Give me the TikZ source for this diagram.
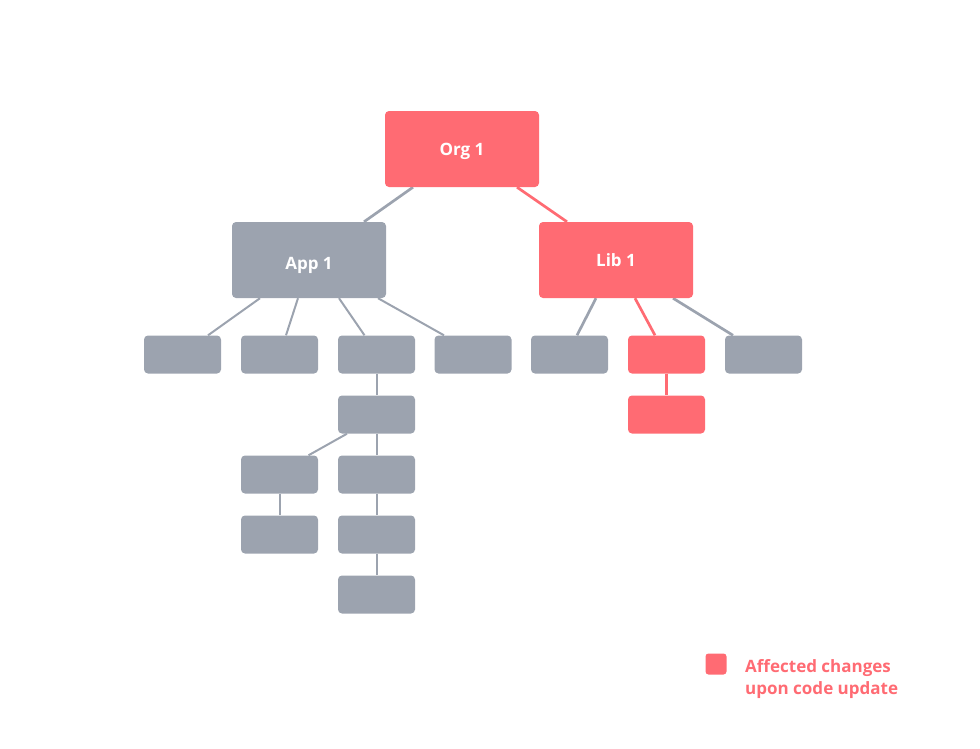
\documentclass[tikz,border=0pt]{standalone}
\usepackage{fontspec}
\setmainfont{Open Sans}
\definecolor{redc}{HTML}{FF6B73}
\definecolor{grayc}{HTML}{9CA3AF}
\pgfdeclarelayer{bg}
\pgfsetlayers{bg,main}
\tikzset{
  bigbox/.style={fill=#1, rounded corners=4pt, minimum width=154pt, minimum height=76pt, inner sep=0pt, text=white, font=\fontsize{17}{20}\selectfont\bfseries, text height=12pt, text depth=0pt},
  smallbox/.style={fill=#1, rounded corners=4pt, minimum width=77pt, minimum height=38pt, inner sep=0pt},
  gline/.style={draw=grayc, line width=2pt},
  gthick/.style={draw=grayc, line width=2.7pt},
  rline/.style={draw=redc, line width=2.7pt},
}
\begin{document}
\begin{tikzpicture}[x=1pt,y=-1pt]
\useasboundingbox (0,0) rectangle (980,748);
% top levels
\node[bigbox=redc]  (org) at (462,149) {Org 1};
\node[bigbox=grayc, text height=18pt] (app) at (309,260) {App 1};
\node[bigbox=redc]  (lib) at (616,260) {Lib 1};
% second row
\node[smallbox=grayc] (a1) at (182.5,354.5) {};
\node[smallbox=grayc] (a2) at (279.5,354.5) {};
\node[smallbox=grayc] (a3) at (376.5,354.5) {};
\node[smallbox=grayc] (a4) at (473,354.5) {};
\node[smallbox=grayc] (l1) at (569.5,354.5) {};
\node[smallbox=redc]  (l2) at (666.5,354.5) {};
\node[smallbox=grayc] (l3) at (763.5,354.5) {};
\node[smallbox=redc]  (l2b) at (666.5,414.5) {};
% column under a3
\node[smallbox=grayc] (c1) at (376.5,414.5) {};
\node[smallbox=grayc] (d1) at (279.5,474.5) {};
\node[smallbox=grayc] (d2) at (279.5,534.5) {};
\node[smallbox=grayc] (e1) at (376.5,474.5) {};
\node[smallbox=grayc] (e2) at (376.5,534.5) {};
\node[smallbox=grayc] (e3) at (376.5,594.5) {};
% legend
\node[fill=redc, rounded corners=3pt, minimum size=21pt, inner sep=0pt] (leg) at (716,664) {};
\node[anchor=north west, inner sep=0pt, align=left, text=redc, font=\fontsize{17}{22}\selectfont\bfseries] (legtext) at (745,659) {Affected changes\\upon code update};
\begin{pgfonlayer}{bg}
\draw[gthick] ([xshift=-49pt]org.south) -- ([xshift=55pt]app.north);
\draw[rline] ([xshift=55pt]org.south) -- ([xshift=-49pt]lib.north);
\draw[gline] ([xshift=-49pt]app.south) -- ([xshift=25.5pt]a1.north);
\draw[gline] ([xshift=-11pt]app.south) -- ([xshift=6.5pt]a2.north);
\draw[gline] ([xshift=30pt]app.south) -- ([xshift=-12pt]a3.north);
\draw[gline] ([xshift=69pt]app.south) -- ([xshift=-29pt]a4.north);
\draw[gthick] ([xshift=-20pt]lib.south) -- ([xshift=7.5pt]l1.north);
\draw[rline] ([xshift=19pt]lib.south) -- ([xshift=-11.5pt]l2.north);
\draw[gthick] ([xshift=57pt]lib.south) -- ([xshift=-30.5pt]l3.north);
\draw[rline] (l2.south) -- (l2b.north);
\draw[gline] (a3.south) -- (c1.north);
\draw[gline] ([xshift=-29.5pt]c1.south) -- ([xshift=29pt]d1.north);
\draw[gline] (c1.south) -- (e1.north);
\draw[gline] (d1.south) -- (d2.north);
\draw[gline] (e1.south) -- (e2.north);
\draw[gline] (e2.south) -- (e3.north);
\end{pgfonlayer}
\end{tikzpicture}
\end{document}
